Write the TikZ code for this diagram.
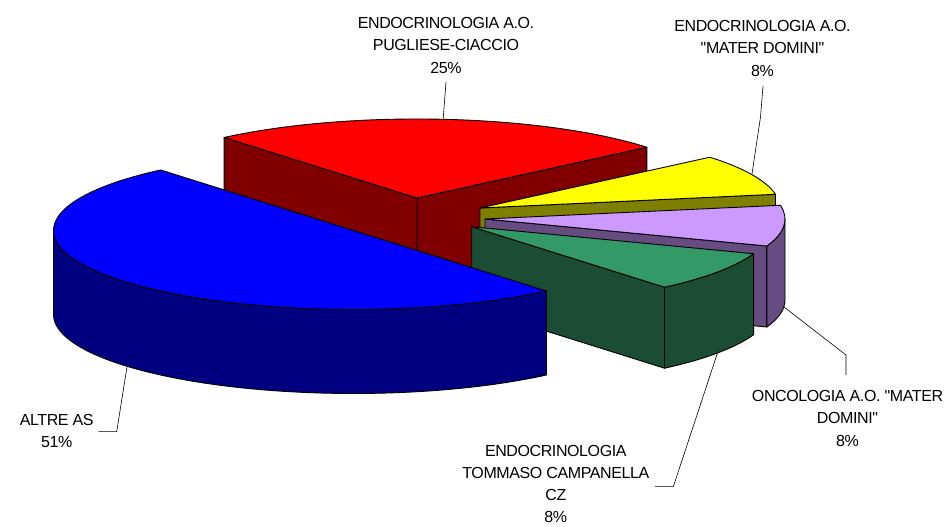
\documentclass[tikz,border=0pt]{standalone}
\usepackage{fontspec}
\newfontfamily\lblfont{Liberation Sans}[LetterSpace=-2.5]
\definecolor{redtop}{HTML}{FF0000}
\definecolor{redside}{HTML}{800000}
\definecolor{blutop}{HTML}{0000FF}
\definecolor{bluside}{HTML}{000080}
\definecolor{yeltop}{HTML}{FFFF00}
\definecolor{yelside}{HTML}{808000}
\definecolor{lavtop}{HTML}{CC99FF}
\definecolor{lavside}{HTML}{664C80}
\definecolor{grntop}{HTML}{339966}
\definecolor{grnside}{HTML}{1A4D33}
\newcommand\Ep[1]{({\cx+300*cos(#1)},{\cy+79*sin(#1)})}
\newcommand\Eb[1]{({\cx+300*cos(#1)},{\cy-\h+79*sin(#1)})}
\begin{document}
\begin{tikzpicture}[x=1pt,y=1pt,
  face/.style={draw=black,line width=0.9pt,line join=round},
  leader/.style={draw=black,line width=0.6pt},
  rim/.style={x radius=300pt,y radius=79pt},
  lbl/.style={align=center,inner sep=0pt,font=\lblfont\fontsize{16}{22.5}\selectfont}]
\useasboundingbox (0,0) rectangle (948,527);
% ---- red slice (25%)
\def\cx{417}\def\cy{329}\def\h{81}
\filldraw[face,fill=redside] (\cx,\cy) -- \Ep{130} -- \Eb{130} -- (\cx,{\cy-\h}) -- cycle;
\filldraw[face,fill=redside] (\cx,\cy) -- \Ep{40} -- \Eb{40} -- (\cx,{\cy-\h}) -- cycle;
\filldraw[face,fill=redtop] (\cx,\cy) -- \Ep{40} arc[rim,start angle=40,end angle=130] -- cycle;
\path \Ep{85} coordinate (redTip);
% ---- yellow slice (8%)
\def\cx{480}\def\cy{319}\def\h{81}
\filldraw[face,fill=yelside] (\cx,\cy) -- \Ep{10} -- \Eb{10} -- (\cx,{\cy-\h}) -- cycle;
\filldraw[face,fill=yeltop] (\cx,\cy) -- \Ep{10} arc[rim,start angle=10,end angle=40] -- cycle;
\path \Ep{25} coordinate (yelTip);
% ---- lavender slice (8%)
\def\cx{485}\def\cy{308}\def\h{81}
\filldraw[face,fill=lavside] (\cx,\cy) -- \Ep{-20} -- \Eb{-20} -- (\cx,{\cy-\h}) -- cycle;
\filldraw[face,fill=lavside] \Ep{-20} arc[rim,start angle=-20,end angle=0] -- \Eb{0} arc[rim,start angle=0,end angle=-20] -- cycle;
\filldraw[face,fill=lavtop] (\cx,\cy) -- \Ep{-20} arc[rim,start angle=-20,end angle=10] -- cycle;
\path \Eb{-5} coordinate (lavTip);
% ---- green slice (8%)
\def\cx{471.7}\def\cy{300.3}\def\h{81}
\filldraw[face,fill=grnside] (\cx,\cy) -- \Ep{-50} -- \Eb{-50} -- (\cx,{\cy-\h}) -- cycle;
\filldraw[face,fill=grnside] \Ep{-50} arc[rim,start angle=-50,end angle=-20] -- \Eb{-20} arc[rim,start angle=-20,end angle=-50] -- cycle;
\filldraw[face,fill=grntop] (\cx,\cy) -- \Ep{-50} arc[rim,start angle=-50,end angle=-20] -- cycle;
\path \Eb{-35} coordinate (grnTip);
% ---- blue slice (51%)
\def\cx{353.5}\def\cy{296.5}\def\h{84}
\filldraw[face,fill=bluside] \Ep{180} arc[rim,start angle=180,end angle=310] -- \Eb{310} arc[rim,start angle=310,end angle=180] -- cycle;
\filldraw[face,fill=blutop] (\cx,\cy) -- \Ep{130} arc[rim,start angle=130,end angle=310] -- cycle;
\path \Eb{221} coordinate (bluTip);
% ---- labels
\node[lbl] (lblPug) at (446,481.7) {ENDOCRINOLOGIA A.O.\\PUGLIESE-CIACCIO\\25\%};
\node[lbl] (lblMaterY) at (762.5,479) {ENDOCRINOLOGIA A.O.\\"MATER DOMINI"\\8\%};
\node[lbl] (lblOnc) at (847.5,109) {ONCOLOGIA A.O. "MATER\\DOMINI"\\8\%};
\node[lbl,font=\lblfont\fontsize{16}{22}\selectfont] (lblTom) at (555.8,43) {ENDOCRINOLOGIA\\TOMMASO CAMPANELLA\\CZ\\8\%};
\node[lbl] (lblAltre) at (56.7,96) {ALTRE AS\\51\%};
% ---- leaders
\draw[leader] (446,445) -- (redTip);
\draw[leader] (763,441) -- (760.5,410) -- (yelTip);
\draw[leader] (lavTip) -- (846,172) -- (846,152);
\coordinate (tomJ) at (655,40.3);
\draw[leader] (grnTip) -- (673.3,40.3) -- (tomJ);
\coordinate (altJ) at (98.3,95.3);
\draw[leader] (bluTip) -- (116.7,95.3) -- (altJ);
\end{tikzpicture}
\end{document}
